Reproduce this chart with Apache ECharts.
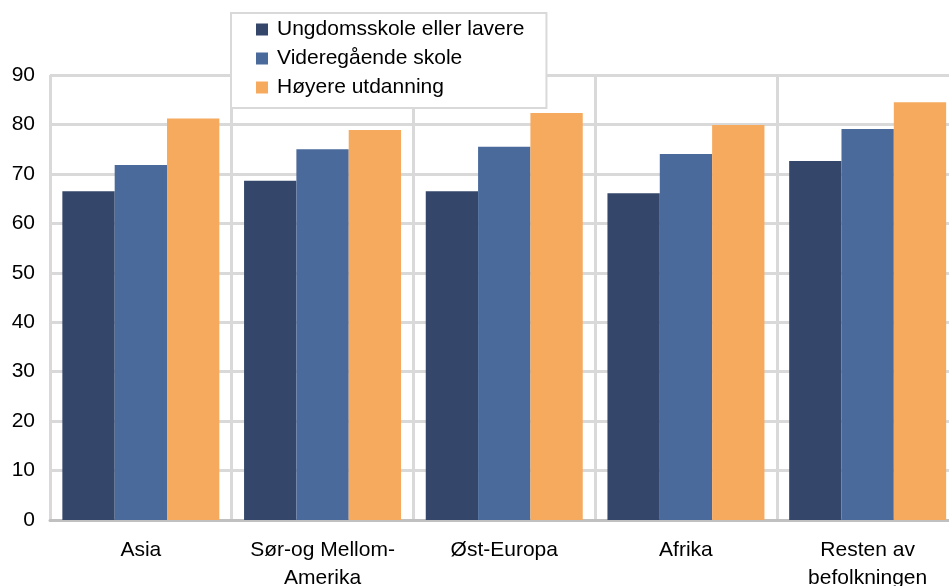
<!DOCTYPE html>
<html>
<head>
<meta charset="utf-8">
<script src="https://cdn.jsdelivr.net/npm/echarts@6/dist/echarts.min.js"></script>
<style>
html,body{margin:0;padding:0;background:#fff;}
#chart{width:949px;height:586px;}
</style>
</head>
<body>
<div id="chart"></div>
<script>
const categories = ['Asia', 'Sør-og Mellom-\nAmerika', 'Øst-Europa', 'Afrika', 'Resten av\nbefolkningen'];
const seriesNames = ['Ungdomsskole eller lavere', 'Videregående skole', 'Høyere utdanning'];
const ungdomsskole = [66.5, 68.6, 66.5, 66.1, 72.6];
const videregaende = [71.8, 75.0, 75.5, 74.0, 79.1];
const hoyere = [81.2, 78.9, 82.3, 79.9, 84.5];
const yTicks = [0, 10, 20, 30, 40, 50, 60, 70, 80, 90];
const colors = ['#34476a', '#4a6a9b', '#f6aa5e'];

const font = 'Liberation Sans, Arial, sans-serif';
const chart = echarts.init(document.getElementById('chart'));
const data = [ungdomsskole, videregaende, hoyere];
chart.setOption({
  animation: false,
  backgroundColor: '#ffffff',
  textStyle: { fontFamily: font },
  grid: { left: 50, right: -9.5, top: 75, bottom: 66, containLabel: false, outerBoundsMode: 'none' },
  legend: {
    orient: 'vertical',
    left: 231,
    top: 13,
    padding: [6, 22, 10, 25],
    backgroundColor: '#ffffff',
    borderColor: '#d9d9d9',
    borderWidth: 2,
    icon: 'rect',
    itemWidth: 12,
    itemHeight: 12,
    itemGap: 8,
    data: seriesNames,
    textStyle: { fontSize: 21, color: '#000', fontFamily: font, lineHeight: 21, padding: [0, 0, 0, 4] }
  },
  xAxis: {
    type: 'category',
    data: categories,
    boundaryGap: true,
    axisLine: { show: true, lineStyle: { color: '#c0c0c0', width: 3 } },
    axisTick: { show: false },
    splitLine: { show: true, lineStyle: { color: '#d9d9d9', width: 3 } },
    axisLabel: { fontSize: 21, color: '#000', fontFamily: font, lineHeight: 28, margin: 16, interval: 0 }
  },
  yAxis: {
    type: 'value',
    min: yTicks[0],
    max: yTicks[yTicks.length - 1],
    interval: 10,
    axisLine: { show: false },
    axisTick: { show: false },
    splitLine: { show: true, lineStyle: { color: '#d9d9d9', width: 3 } },
    axisLabel: { fontSize: 21, color: '#000', fontFamily: font, margin: 15 }
  },
  series: seriesNames.map((name, i) => ({
    name: name,
    type: 'bar',
    data: data[i],
    barGap: '0%',
    barCategoryGap: '13.6%',
    itemStyle: { color: colors[i] }
  }))
});
</script>
</body>
</html>
